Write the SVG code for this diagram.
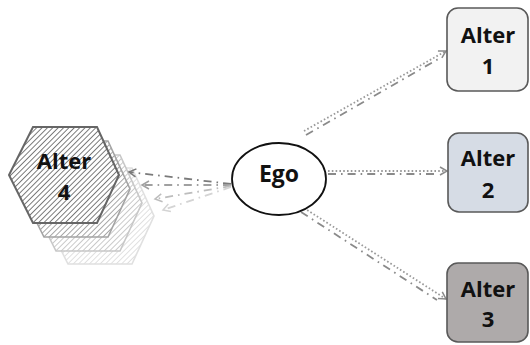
<svg xmlns="http://www.w3.org/2000/svg" width="530" height="345" viewBox="0 0 530 345">
  <defs>
    <style>
      .lbl { font-family: "Open Sans", "Liberation Sans", sans-serif; font-weight: 700; font-size: 22px; fill: #111; text-anchor: middle; }
      .box { stroke: #595959; stroke-width: 1.6; }
      .dot { fill: none; stroke: #9a9a9a; stroke-width: 1.8; stroke-dasharray: 1.6 2.2; }
      .dd  { fill: none; stroke: #8a8a8a; stroke-width: 1.8; stroke-dasharray: 8 5 1.6 5; }
    </style>
    <marker id="arr" markerWidth="10" markerHeight="10" refX="8" refY="5" orient="auto" markerUnits="userSpaceOnUse">
      <path d="M1,1 L8,5 L1,9" fill="none" stroke="#8a8a8a" stroke-width="1.5"/>
    </marker>
    <marker id="arr1" markerWidth="10" markerHeight="10" refX="8" refY="5" orient="auto" markerUnits="userSpaceOnUse">
      <path d="M1,1 L8,5 L1,9" fill="none" stroke="#7a7a7a" stroke-width="1.5"/>
    </marker>
    <marker id="arr2" markerWidth="10" markerHeight="10" refX="8" refY="5" orient="auto" markerUnits="userSpaceOnUse">
      <path d="M1,1 L8,5 L1,9" fill="none" stroke="#a0a0a0" stroke-width="1.5"/>
    </marker>
    <marker id="arr3" markerWidth="10" markerHeight="10" refX="8" refY="5" orient="auto" markerUnits="userSpaceOnUse">
      <path d="M1,1 L8,5 L1,9" fill="none" stroke="#bdbdbd" stroke-width="1.5"/>
    </marker>
    <marker id="arr4" markerWidth="10" markerHeight="10" refX="8" refY="5" orient="auto" markerUnits="userSpaceOnUse">
      <path d="M1,1 L8,5 L1,9" fill="none" stroke="#d4d4d4" stroke-width="1.5"/>
    </marker>
    <!-- diagonal hatch fills, darkest to lightest -->
    <pattern id="hatch0" width="3.8" height="3.8" patternUnits="userSpaceOnUse" patternTransform="rotate(45)">
      <rect width="3.8" height="3.8" fill="#fff"/>
      <line x1="0" y1="0" x2="0" y2="3.8" stroke="#666" stroke-width="1.7"/>
    </pattern>
    <pattern id="hatch1" width="3.8" height="3.8" patternUnits="userSpaceOnUse" patternTransform="rotate(45)">
      <rect width="3.8" height="3.8" fill="#fff"/>
      <line x1="0" y1="0" x2="0" y2="3.8" stroke="#989898" stroke-width="1.7"/>
    </pattern>
    <pattern id="hatch2" width="3.8" height="3.8" patternUnits="userSpaceOnUse" patternTransform="rotate(45)">
      <rect width="3.8" height="3.8" fill="#fff"/>
      <line x1="0" y1="0" x2="0" y2="3.8" stroke="#c2c2c2" stroke-width="1.7"/>
    </pattern>
    <pattern id="hatch3" width="3.8" height="3.8" patternUnits="userSpaceOnUse" patternTransform="rotate(45)">
      <rect width="3.8" height="3.8" fill="#fff"/>
      <line x1="0" y1="0" x2="0" y2="3.8" stroke="#dcdcdc" stroke-width="1.7"/>
    </pattern>
    <polygon id="hex" points="-31,-48 33,-48 55,0 33,48 -31,48 -55,0"/>
  </defs>

  <!-- Alter 4 with fading copies behind it -->
  <g id="alter4">
    <use href="#hex" transform="translate(99,216)" fill="url(#hatch3)" stroke="#e0e0e0" stroke-width="1.6"/>
    <use href="#hex" transform="translate(87,203)" fill="url(#hatch2)" stroke="#c8c8c8" stroke-width="1.6"/>
    <use href="#hex" transform="translate(75,189)" fill="url(#hatch1)" stroke="#a4a4a4" stroke-width="1.6"/>
    <use href="#hex" transform="translate(64,175)" fill="url(#hatch0)" stroke="#666" stroke-width="2"/>
    <text class="lbl" x="64" y="169">Alter</text>
    <text class="lbl" x="64" y="200">4</text>
  </g>

  <g id="connectors">
    <!-- Ego to Alter 4 and its copies -->
    <line x1="231" y1="184" x2="129" y2="172" class="dd" style="stroke:#7a7a7a" marker-end="url(#arr1)"/>
    <line x1="231" y1="185" x2="142" y2="185" class="dd" style="stroke:#a0a0a0" marker-end="url(#arr2)"/>
    <line x1="231" y1="186" x2="155" y2="199" class="dd" style="stroke:#bdbdbd" marker-end="url(#arr3)"/>
    <line x1="231" y1="187" x2="163" y2="210" class="dd" style="stroke:#d4d4d4" marker-end="url(#arr4)"/>

    <!-- Ego to Alter 1 -->
    <line x1="304" y1="131" x2="446" y2="51" class="dot" marker-end="url(#arr)"/>
    <line x1="306" y1="135" x2="440" y2="58" class="dd"/>
    <!-- Ego to Alter 2 -->
    <line x1="328" y1="171" x2="447" y2="171" class="dot" marker-end="url(#arr)"/>
    <line x1="328" y1="174" x2="438" y2="174" class="dd"/>
    <!-- Ego to Alter 3 -->
    <line x1="304" y1="208" x2="446" y2="299" class="dot" marker-end="url(#arr)"/>
    <line x1="301" y1="212" x2="437" y2="300" class="dd"/>
  </g>

  <g id="ego">
    <ellipse cx="279" cy="179" rx="47" ry="36" fill="#fff" stroke="#111" stroke-width="1.8"/>
    <text class="lbl" x="279" y="182" style="font-size:23px">Ego</text>
  </g>

  <g id="alter1">
    <rect class="box" x="447" y="8" width="81" height="83" rx="11" fill="#f2f2f2"/>
    <text class="lbl" x="488" y="43">Alter</text>
    <text class="lbl" x="488" y="74">1</text>
  </g>

  <g id="alter2">
    <rect class="box" x="448" y="133" width="80" height="79" rx="11" fill="#d6dce5"/>
    <text class="lbl" x="488" y="166">Alter</text>
    <text class="lbl" x="488" y="198">2</text>
  </g>

  <g id="alter3">
    <rect class="box" x="447" y="263" width="81" height="79" rx="11" fill="#aeaaaa"/>
    <text class="lbl" x="488" y="297">Alter</text>
    <text class="lbl" x="488" y="327">3</text>
  </g>
</svg>
